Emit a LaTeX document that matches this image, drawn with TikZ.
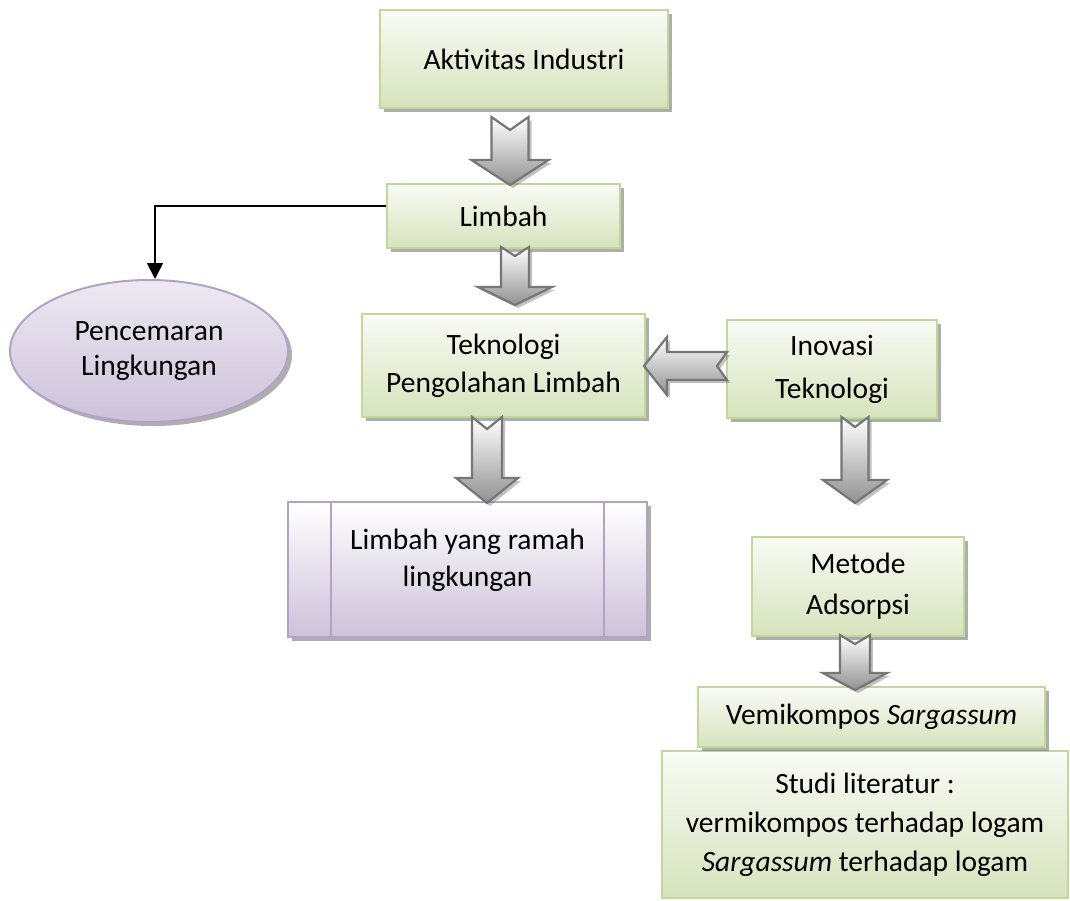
\documentclass[tikz,border=0pt]{standalone}
\usepackage{fontspec}
\setmainfont{Carlito}
\usetikzlibrary{shapes.geometric,shadows,arrows.meta,calc}
\definecolor{gborder}{RGB}{195,214,155}
\definecolor{gfill}{RGB}{214,227,188}
\definecolor{pborder}{RGB}{179,162,199}
\definecolor{pfill}{RGB}{204,193,218}
\definecolor{aline}{RGB}{118,118,118}
\definecolor{agray}{RGB}{145,145,145}
\definecolor{shadowc}{RGB}{120,120,120}
\tikzset{
  boxshadow/.style={drop shadow={shadow xshift=4pt, shadow yshift=-4pt, fill=shadowc, opacity=0.6}},
  gboxplain/.style={rectangle, draw=gborder, line width=2pt, top color=gfill!15!white, bottom color=gfill,
    inner sep=0pt, align=center},
  gbox/.style={gboxplain, boxshadow},
  pbox/.style={rectangle, draw=pborder, line width=2pt, top color=white, bottom color=pfill,
    inner sep=0pt, align=center, boxshadow},
  pell/.style={ellipse, draw=pborder, line width=2pt, top color=pfill!35!white, bottom color=pfill,
    inner sep=0pt, align=center, boxshadow},
  txt/.style={font=\fontsize{29.5}{#1}\selectfont},
  txt/.default=38,
  blockarrow/.style={draw=aline, line width=2.2pt, line join=miter, top color=white, bottom color=agray,
    drop shadow={shadow xshift=3pt, shadow yshift=-3pt, fill=shadowc, opacity=0.45}},
  conn/.style={draw=black, line width=1.8pt, -{Triangle[width=16pt,length=16pt]}}
}
% #1 centre x, #2 top y, #3 tip y, #4 shaft half width, #5 head half width, #6 head start y, #7 notch depth
\newcommand\blockdown[7]{%
  \path[blockarrow] (#1-#4,#2) -- (#1,#2+#7) -- (#1+#4,#2) -- (#1+#4,#6) -- (#1+#5,#6)
    -- (#1,#3) -- (#1-#5,#6) -- (#1-#4,#6) -- cycle;}
\begin{document}
\begin{tikzpicture}[x=1pt,y=-1pt]
\useasboundingbox (0,0) rectangle (1070,900);

\node[gbox, txt, minimum width=288pt, minimum height=98pt] (aktiv) at (524,59) {Aktivitas Industri};
\node[gbox, txt, minimum width=233pt, minimum height=64pt] (limbah) at (503.5,216) {Limbah};
\node[gbox, txt=38, minimum width=283pt, minimum height=103pt] (tekno) at (503.5,365.5) {Teknologi\\Pengolahan Limbah};
\node[gbox, txt=43, minimum width=210pt, minimum height=98pt] (inov) at (832,369) {Inovasi\\Teknologi};
\node[pell, txt=35, minimum width=278pt, minimum height=142pt] (cemar) at (149,351) {Pencemaran\\Lingkungan};
\node[pbox, minimum width=359pt, minimum height=135pt,
  label={[txt=37, align=center, yshift=9.5pt]center:Limbah yang ramah\\lingkungan}] (ramah) at (467.5,569.5) {};
\draw[pborder, line width=2pt] ([xshift=44pt]ramah.north west) -- ([xshift=44pt]ramah.south west)
  ([xshift=-44pt]ramah.north east) -- ([xshift=-44pt]ramah.south east);
\node[gbox, txt=41, minimum width=212pt, minimum height=99pt] (metode) at (858,586.5) {Metode\\Adsorpsi};
\node[gboxplain, txt=39, minimum width=406pt, minimum height=147pt] (studi) at (865,824.5)
  {Studi literatur :\\vermikompos terhadap logam\\\textit{Sargassum} terhadap logam};
\node[gbox, txt, minimum width=347pt, minimum height=60pt] (vemi) at (871.5,717) {Vemikompos \textit{Sargassum}};

% connector Limbah -> Pencemaran Lingkungan
\draw[conn] ([yshift=10pt]limbah.west) -| ([xshift=6pt]cemar.north);

% block arrows
\blockdown{510}{117}{185}{18.5}{38.5}{160}{13}
\blockdown{515}{247}{305}{14}{37}{287}{9}
\blockdown{487}{417}{503}{15}{31}{478}{12}
\blockdown{855}{417}{503}{13.5}{32}{480}{10}
\blockdown{855}{635}{690}{15}{32}{673}{9}
\path[blockarrow] (727,352) -- (717,366) -- (727,380) -- (667,380) -- (667,395) -- (644,366)
  -- (667,337) -- (667,352) -- cycle;
\end{tikzpicture}
\end{document}
